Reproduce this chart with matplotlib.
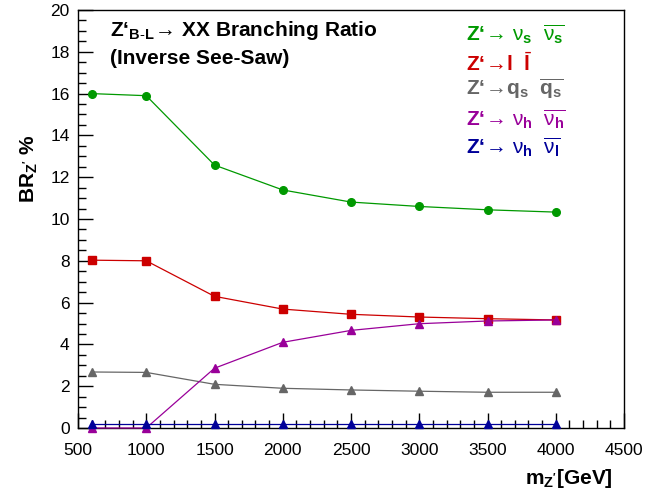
import matplotlib
matplotlib.use("Agg")
import matplotlib.pyplot as plt
from matplotlib.ticker import MultipleLocator

plt.rcParams['font.family'] = ['Liberation Sans', 'DejaVu Sans']
plt.rcParams['mathtext.fontset'] = 'custom'
plt.rcParams['mathtext.rm'] = 'Liberation Sans'
plt.rcParams['mathtext.it'] = 'Liberation Sans'
plt.rcParams['mathtext.bf'] = 'Liberation Sans:bold'
plt.rcParams['mathtext.sf'] = 'Liberation Sans'

mass = [600, 1000, 1500, 2000, 2500, 3000, 3500, 4000]
br_nus = [16.0, 15.9, 12.58, 11.39, 10.81, 10.6, 10.44, 10.33]
br_ll = [8.03, 8.0, 6.3, 5.69, 5.44, 5.31, 5.23, 5.17]
br_qq = [2.68, 2.66, 2.09, 1.9, 1.82, 1.76, 1.71, 1.71]
br_nuh = [0.0, 0.0, 2.86, 4.1, 4.67, 4.99, 5.12, 5.17]
br_nuhl = [0.2, 0.2, 0.2, 0.2, 0.2, 0.2, 0.2, 0.2]

c_green = '#009900'
c_red = '#cc0000'
c_gray = '#666666'
c_mag = '#990099'
c_blue = '#000099'

fig = plt.figure(figsize=(6.68, 4.95), dpi=100)
ax = fig.add_axes([78/668, 1 - 428/495, (624-78)/668, (428-10)/495])

ax.plot(mass, br_nus, color=c_green, lw=0.9, marker='o', ms=5.5, zorder=3)
ax.plot(mass, br_ll, color=c_red, lw=0.9, marker='s', ms=5.2, zorder=3)
ax.plot(mass, br_qq, color=c_gray, lw=0.9, marker='^', ms=5.5, zorder=3)
ax.plot(mass, br_nuh, color=c_mag, lw=0.9, marker='^', ms=5.5, zorder=4, clip_on=False)
ax.plot(mass, br_nuhl, color=c_blue, lw=0.9, marker='^', ms=5.5, zorder=5, clip_on=False)

ax.set_xlim(500, 4500)
ax.set_ylim(0, 20)
ax.xaxis.set_major_locator(MultipleLocator(500))
ax.xaxis.set_minor_locator(MultipleLocator(100))
ax.yaxis.set_major_locator(MultipleLocator(2))
ax.yaxis.set_minor_locator(MultipleLocator(0.5))
ax.tick_params(which='both', direction='in', top=False, right=False,
               labelsize=12.5, width=1, color='black')
ax.tick_params(which='major', length=11)
ax.tick_params(which='minor', length=5.5)
ax.tick_params(axis='x', pad=11)
ax.tick_params(axis='y', pad=6)
for s in ax.spines.values():
    s.set_linewidth(1)

ax.set_ylabel(r"BR$_{\mathbf{Z'}}$ %", fontsize=15, fontweight='bold')
ax.yaxis.set_label_coords(-0.07, 0.62)
fig.text(613/668, 1 - 478/495, r"m$_{\mathbf{Z'}}$[GeV]", fontsize=15,
         fontweight='bold', ha='right', va='center')

# Heading inside the frame
fig.text(110/668, 1 - 31/495, r"Z‘$_{\mathbf{B\text{-}L}}\!\rightarrow\!$ XX Branching Ratio",
         fontsize=15, fontweight='bold', ha='left', va='center')
fig.text(110/668, 1 - 59/495, "(Inverse See-Saw)", fontsize=15,
         fontweight='bold', ha='left', va='center')

# Decay channel labels
legend_rows = [
    (r"Z‘$\!\rightarrow\!$ $\nu_{\mathbf{s}}$  $\overline{\nu_{\mathbf{s}}}$", c_green, 34),
    (r"Z‘$\!\rightarrow\!$l  $\bar{\mathbf{l}}$", c_red, 64),
    (r"Z‘$\!\rightarrow\!$q$_{\mathbf{s}}$  $\overline{\mathbf{q}_{\mathbf{s}}}$", c_gray, 89),
    (r"Z‘$\!\rightarrow\!$ $\nu_{\mathbf{h}}$  $\overline{\nu_{\mathbf{h}}}$", c_mag, 119),
    (r"Z‘$\!\rightarrow\!$ $\nu_{\mathbf{h}}$  $\overline{\nu_{\mathbf{l}}}$", c_blue, 147),
]
for txt, col, yy in legend_rows:
    fig.text(466/668, 1 - yy/495, txt, fontsize=15, color=col,
             fontweight='bold', ha='left', va='center')

fig.savefig("out.png", dpi=100)
